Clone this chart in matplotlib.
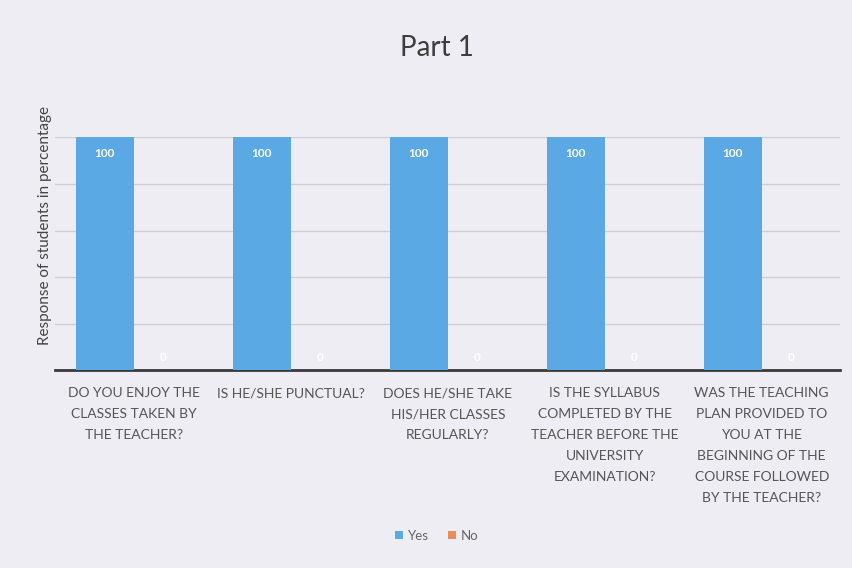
import matplotlib.pyplot as plt
import numpy as np

categories = [
    "DO YOU ENJOY THE\nCLASSES TAKEN BY\nTHE TEACHER?",
    "IS HE/SHE PUNCTUAL?",
    "DOES HE/SHE TAKE\nHIS/HER CLASSES\nREGULARLY?",
    "IS THE SYLLABUS\nCOMPLETED BY THE\nTEACHER BEFORE THE\nUNIVERSITY\nEXAMINATION?",
    "WAS THE TEACHING\nPLAN PROVIDED TO\nYOU AT THE\nBEGINNING OF THE\nCOURSE FOLLOWED\nBY THE TEACHER?",
]
yes_values = [100, 100, 100, 100, 100]
no_values = [0, 0, 0, 0, 0]
series_names = ["Yes", "No"]

plt.rcParams['font.family'] = ['Lato', 'DejaVu Sans']

bg = "#eeedf3"
fig = plt.figure(figsize=(8.53, 5.68), dpi=100, facecolor=bg)
ax = fig.add_axes([0.065, 0.348, 0.920, 0.41], facecolor=bg)

x = np.arange(len(categories))
w = 0.37
b1 = ax.bar(x - w / 2, yes_values, w, color="#5aa9e4", label=series_names[0], zorder=3)
b2 = ax.bar(x + w / 2, no_values, w, color="#ec8a5a", label=series_names[1], zorder=3)

for rect, v in zip(b1, yes_values):
    ax.text(rect.get_x() + rect.get_width() / 2, v - 4.5, f"{v}", ha="center", va="top",
            color="white", fontsize=8.5, fontweight="bold", zorder=4)
for rect, v in zip(b2, no_values):
    ax.text(rect.get_x() + rect.get_width() / 2, v + 3, f"{v}", ha="center", va="bottom",
            color="white", fontsize=8.5, fontweight="bold", zorder=4)

ax.set_ylim(0, 100)
ax.set_xlim(-0.5, len(categories) - 0.5)
ax.set_yticks([0, 20, 40, 60, 80, 100])
ax.set_yticklabels([])
ax.tick_params(axis="y", length=0)
ax.tick_params(axis="x", length=0, pad=12)
ax.grid(axis="y", color="#cdcdd2", linewidth=0.9, zorder=0)
ax.set_xticks(x)
ax.set_xticklabels(categories, fontsize=10, color="#555555", linespacing=1.9)
for s in ["top", "right", "left"]:
    ax.spines[s].set_visible(False)
ax.spines["bottom"].set_color("#3a3a3a")
ax.spines["bottom"].set_linewidth(2)

ax.set_ylabel("Response of students in percentage", fontsize=11, color="#444444")
ax.yaxis.set_label_coords(-0.005, 0.62)
fig.text(0.512, 0.915, "Part 1", ha="center", va="center", fontsize=20, color="#3d3d3d")

leg = fig.legend(handles=[b1, b2], labels=series_names, loc="center", bbox_to_anchor=(0.512, 0.057),
                 ncol=2, frameon=False, fontsize=9.5, handlelength=0.6, handleheight=0.6,
                 columnspacing=1.4, handletextpad=0.4, labelcolor="#666666")

fig.savefig("out.png", dpi=100, facecolor=bg)
